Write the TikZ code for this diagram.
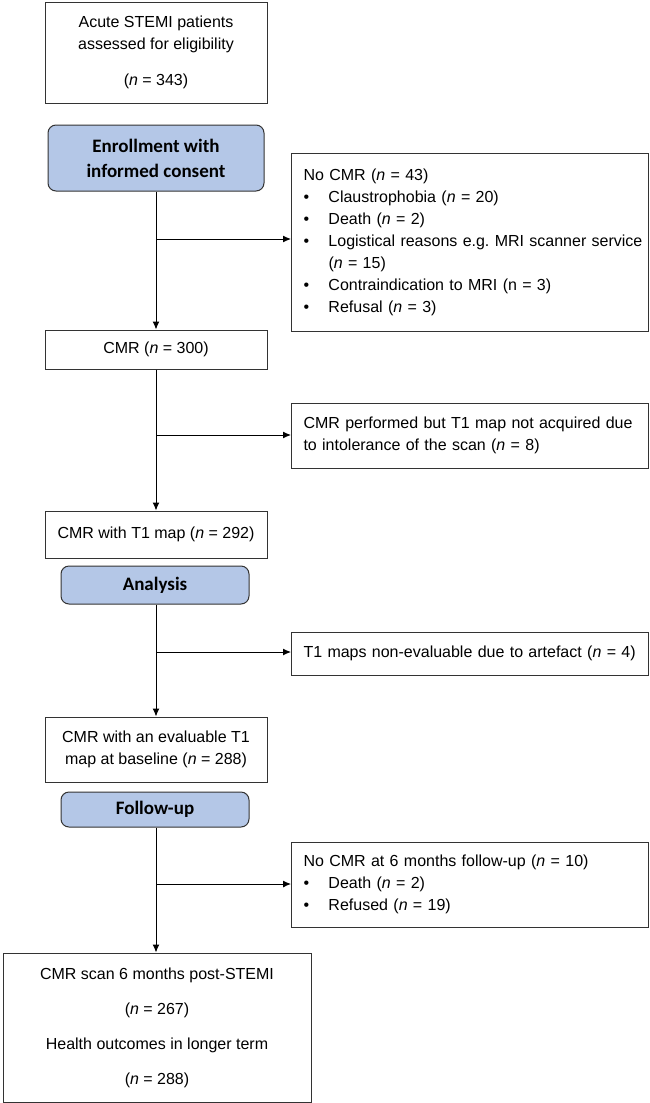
\documentclass[tikz,border=0pt]{standalone}
\usepackage{fontspec}
\setmainfont{Liberation Sans}
\newfontfamily\calibri{Carlito}
\usepackage{tikz}
\definecolor{blue200}{HTML}{B4C7E7}
\definecolor{gray800}{HTML}{333333}
\usetikzlibrary{arrows.meta}
\frenchspacing
\tikzstyle{caixa}=[draw=gray800, line width=1pt, fill=white, inner sep=0pt, align=center, font=\fontsize{16}{22}\selectfont]
\tikzstyle{etapa}=[draw=gray800, line width=1pt, fill=blue200, rounded corners=8pt, inner sep=0pt, align=center, font=\calibri\bfseries\fontsize{19}{25}\selectfont]
\tikzstyle{lateral}=[caixa, align=left, text width=333pt, inner xsep=12pt, anchor=west]

\begin{document}
\begin{tikzpicture}[x=1pt, y=-1pt, ->, >={Latex[length=8pt, width=7pt]}, line width=1pt]
				\useasboundingbox (0,0) rectangle (650,1103);
				% coluna principal
				\node[caixa, minimum width=222pt, minimum height=101pt] (b1) at (156,52.5) {Acute STEMI patients\\assessed for eligibility\\[14pt](\textit{n} = 343)};
				\node[etapa, minimum width=216pt, minimum height=66pt] (e1) at (156,158) {Enrollment with\\informed consent};
				\node[caixa, minimum width=222pt, minimum height=39pt] (b2) at (156,349.5) {CMR (\textit{n} = 300)};
				\node[caixa, minimum width=222pt, minimum height=47pt] (b3) at (156,534.5) {CMR with T1 map (\textit{n} = 292)};
				\node[etapa, minimum width=188pt, minimum height=38pt] (e2) at (155,585) {Analysis};
				\node[caixa, minimum width=222pt, minimum height=65pt] (b4) at (156,749.5) {CMR with an evaluable T1\\map at baseline (\textit{n} = 288)};
				\node[etapa, minimum width=188pt, minimum height=35pt] (e3) at (155,809.5) {Follow-up};
				\node[caixa, minimum width=308pt, minimum height=149pt] (b5) at (157,1027.5) {CMR scan 6 months post-STEMI\\[13pt](\textit{n} = 267)\\[13pt]Health outcomes in longer term\\[13pt](\textit{n} = 288)};
				% caixas laterais
				\node[lateral, minimum height=178pt] (s1) at (291,242) {\begin{tabular}{@{}p{25pt}@{}l@{}}
					\multicolumn{2}{@{}l@{}}{No CMR (\textit{n} = 43)}\\
					\textbullet & Claustrophobia (\textit{n} = 20)\\
					\textbullet & Death (\textit{n} = 2)\\
					\textbullet & Logistical reasons e.g. MRI scanner service\\
					& (\textit{n} = 15)\\
					\textbullet & Contraindication to MRI (n = 3)\\
					\textbullet & Refusal (\textit{n} = 3)
				\end{tabular}};
				\node[lateral, minimum height=65pt] (s2) at (291,435.5) {CMR performed but T1 map not acquired due\\to intolerance of the scan (\textit{n} = 8)};
				\node[lateral, minimum height=43pt] (s3) at (291,653.5) {T1 maps non-evaluable due to artefact (\textit{n} = 4)};
				\node[lateral, minimum height=85pt] (s4) at (291,884.5) {\begin{tabular}{@{}p{25pt}@{}l@{}}
					\multicolumn{2}{@{}l@{}}{No CMR at 6 months follow-up (\textit{n} = 10)}\\
					\textbullet & Death (\textit{n} = 2)\\
					\textbullet & Refused (\textit{n} = 19)
				\end{tabular}};
				% setas
				\coordinate (c1) at (156,239);
				\coordinate (c2) at (156,435);
				\coordinate (c3) at (156,652);
				\coordinate (c4) at (156,884);
				\draw (e1.south) -- (b2.north);
				\draw (c1) -- (c1 -| s1.west);
				\draw (b2.south) -- (b3.north);
				\draw (c2) -- (c2 -| s2.west);
				\draw (e2.south -| b4.north) -- (b4.north);
				\draw (c3) -- (c3 -| s3.west);
				\draw (e3.south -| c4) -- (c4 |- b5.north);
				\draw (c4) -- (c4 -| s4.west);
			\end{tikzpicture}
\end{document}
